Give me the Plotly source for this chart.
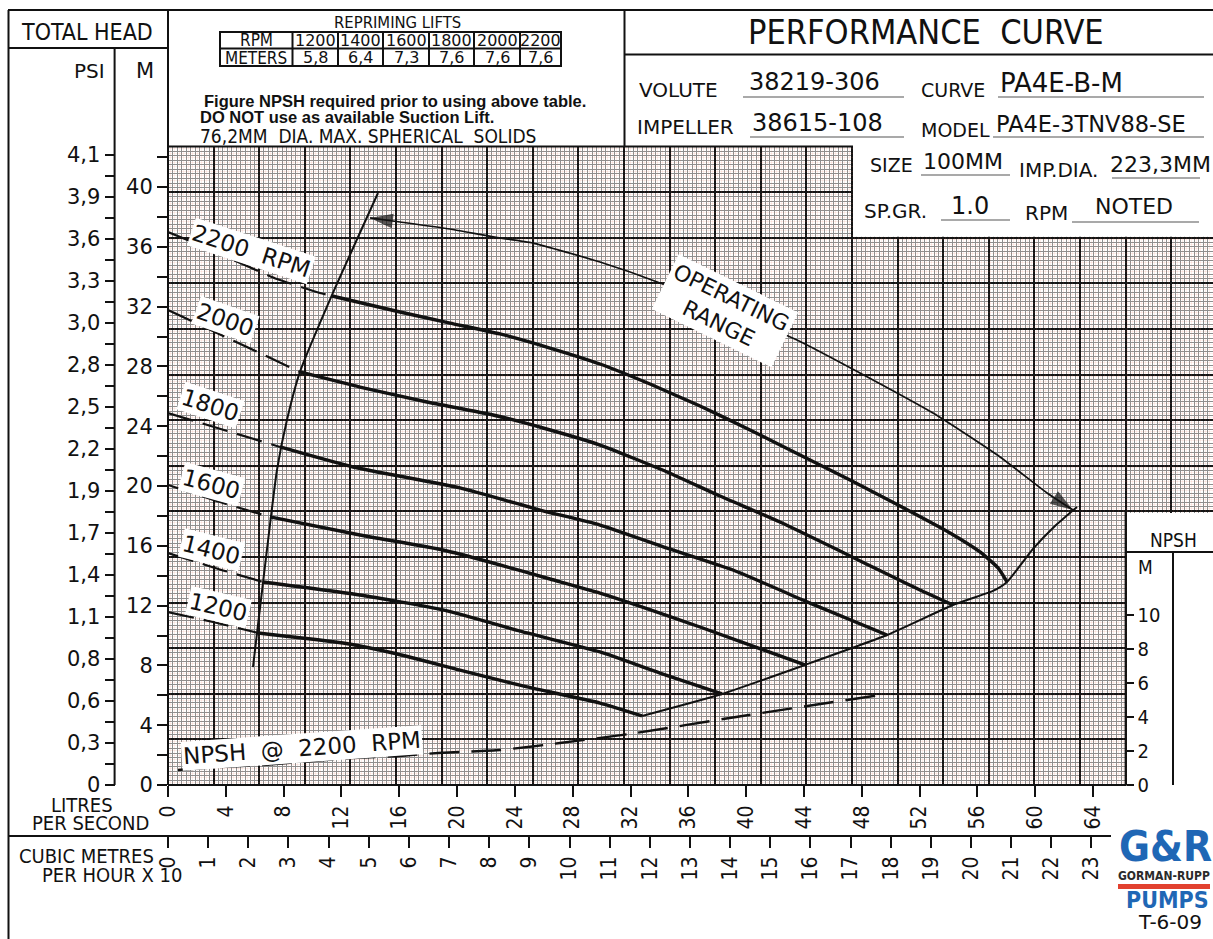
import plotly.graph_objects as go

W, H = 1213, 939
F_NARROW = "DejaVu Sans Condensed, DejaVu Sans, sans-serif"
F_SANS = "DejaVu Sans, sans-serif"
F_NOTE = "Liberation Sans, Arial, sans-serif"

# ------------------------------------------------------------------ data
# flow in litres / second, head in metres
Q_2200_DASH = [0.0, 2.70, 4.84, 7.54, 10.52, 11.35]
H_2200_DASH = [36.99, 35.92, 34.98, 33.85, 32.91, 32.71]
Q_2200 = [11.35, 16.05, 19.51, 22.97, 26.43, 29.89, 33.35, 36.81, 40.27, 43.73, 47.19, 50.65, 54.11, 56.18, 57.43, 58.05]
H_2200 = [32.71, 31.64, 30.90, 30.17, 29.23, 28.16, 26.82, 25.35, 23.75, 22.07, 20.40, 18.66, 16.86, 15.59, 14.52, 13.58]

Q_2000_DASH = [0.0, 4.57, 9.13]
H_2000_DASH = [31.77, 29.70, 27.63]
Q_2000 = [9.13, 13.28, 17.92, 22.49, 25.95, 29.89, 34.53, 38.19, 42.34, 46.50, 49.75, 52.03, 54.31]
H_2000 = [27.63, 26.62, 25.62, 24.75, 23.88, 22.74, 20.94, 19.33, 17.59, 15.65, 14.11, 13.04, 12.04]

Q_1800_DASH = [0.0, 3.87, 7.75]
H_1800_DASH = [24.88, 23.75, 22.61]
Q_1800 = [7.75, 12.80, 20.20, 25.74, 29.89, 34.53, 39.09, 44.42, 49.75]
H_1800 = [22.61, 21.27, 19.87, 18.39, 17.39, 15.85, 14.38, 12.17, 10.03]

Q_1600_DASH = [0.0, 3.60, 7.06]
H_1600_DASH = [20.07, 18.93, 17.93]
Q_1600 = [7.06, 13.28, 19.03, 22.49, 26.43, 29.89, 36.81, 44.07]
H_1600 = [17.93, 16.72, 15.72, 14.85, 13.78, 12.84, 10.57, 8.03]

Q_1400_DASH = [0.0, 3.25, 6.57]
H_1400_DASH = [15.52, 14.52, 13.58]
Q_1400 = [6.57, 13.28, 19.03, 24.84, 29.89, 34.04, 38.33]
H_1400 = [13.58, 12.71, 11.71, 10.17, 8.90, 7.49, 6.09]

Q_1200_DASH = [0.0, 3.11, 6.23]
H_1200_DASH = [11.57, 10.90, 10.17]
Q_1200 = [6.23, 12.11, 15.57, 20.20, 24.84, 29.89, 32.80]
H_1200 = [10.17, 9.50, 8.83, 7.69, 6.56, 5.48, 4.62]

# end-of-curve (maximum flow) line
Q_MAX = [32.80, 38.33, 44.07, 49.75, 54.31, 57.08, 58.05, 59.85, 61.37, 62.89]
H_MAX = [4.62, 6.09, 8.03, 10.03, 12.04, 12.98, 13.58, 15.79, 17.32, 18.60]

# minimum flow (left) line
Q_MIN = [5.88, 6.57, 7.54, 8.23, 9.13, 11.35, 14.53]
H_MIN = [7.89, 13.51, 21.07, 24.41, 27.63, 32.78, 39.60]

# operating range arrow
Q_OPR = [13.98, 16.05, 19.51, 22.49, 25.25, 29.89, 34.04, 38.88, 43.52, 52.93, 57.57, 60.82, 62.62]
H_OPR = [37.93, 37.66, 37.19, 36.66, 36.25, 34.98, 33.58, 31.64, 29.77, 24.88, 21.94, 19.53, 18.39]

# NPSH required @ 2200 rpm (NPSH metres)
Q_NPSH = [0.69, 3.60, 6.57, 9.13, 12.73, 16.05, 18.68, 22.97, 27.12, 32.38, 39.30, 49.26]
H_NPSH = [0.88, 1.06, 1.17, 1.35, 1.58, 1.70, 1.88, 2.05, 2.46, 3.05, 3.99, 5.28]

CURVE_LABELS = ["2200\u00a0\u00a0RPM", "2000", "1800", "1600", "1400", "1200"]

# ticks
LPS_TICKS = list(range(0, 65, 4))
M3H_TICKS = list(range(0, 24))
HEAD_TICKS = list(range(0, 41, 4))
HEAD_MINOR = list(range(2, 43, 4))
PSI_TICKS = [0.275 * i for i in range(16)]
PSI_LABELS = ["0", "0,3", "0,6", "0,8", "1,1", "1,4", "1,7", "1,9", "2,2", "2,5",
              "2,8", "3,0", "3,3", "3,6", "3,9", "4,1"]
PSI_MINOR = [0.1375 * i for i in range(31)]
NPSH_TICKS = [0, 2, 4, 6, 8, 10]

REPRIME_RPM = ["1200", "1400", "1600", "1800", "2000", "2200"]
REPRIME_M = ["5,8", "6,4", "7,3", "7,6", "7,6", "7,6"]

# ------------------------------------------------------------------ geometry (pixels)
X0, XR, Y0, YT = 168.0, 1213.0, 785.0, 146.0
SX, SY, SN, SP, SC = 14.453, 14.95, 17.05, 152.7, 40.15
G = 45.6  # graph-paper major square

DOM_X = [X0 / W, 1.0]
DOM_Y = [1 - Y0 / H, 1 - YT / H]


def px(x):
    return x / W


def py(y):
    return 1 - y / H


fig = go.Figure()
BLACK = "#111111"


def add_curve(q, h, width, dash=None, yaxis="y"):
    fig.add_trace(go.Scatter(x=q, y=h, mode="lines", yaxis=yaxis,
                             line=dict(color=BLACK, width=width, dash=dash, shape="spline", smoothing=0.5),
                             hoverinfo="skip", showlegend=False))


# empty traces that bind the decorative axes (graph paper, PSI, m3/h) to subplots
for xa, ya in [("x3", "y3"), ("x4", "y4"), ("x", "y5"), ("x5", "y")]:
    fig.add_trace(go.Scatter(x=[], y=[], xaxis=xa, yaxis=ya, mode="lines",
                             hoverinfo="skip", showlegend=False))

DASH = "26px,10px"
for qd, hd, qs, hs in [
    (Q_2200_DASH, H_2200_DASH, Q_2200, H_2200),
    (Q_2000_DASH, H_2000_DASH, Q_2000, H_2000),
    (Q_1800_DASH, H_1800_DASH, Q_1800, H_1800),
    (Q_1600_DASH, H_1600_DASH, Q_1600, H_1600),
    (Q_1400_DASH, H_1400_DASH, Q_1400, H_1400),
    (Q_1200_DASH, H_1200_DASH, Q_1200, H_1200),
]:
    add_curve(qd, hd, 2.2, DASH)
    add_curve(qs, hs, 3.4)

add_curve(Q_MAX, H_MAX, 2.0)
add_curve(Q_MIN, H_MIN, 2.0)
add_curve(Q_OPR, H_OPR, 1.7)
add_curve(Q_NPSH, H_NPSH, 2.4, "30px,12px", yaxis="y2")

# arrow heads at both ends of the operating range line
for i, j in [(1, 0), (-2, -1)]:
    fig.add_trace(go.Scatter(x=[Q_OPR[i], Q_OPR[j]], y=[H_OPR[i], H_OPR[j]], mode="markers",
                             marker=dict(symbol=["circle", "arrow"], size=[0, 24], color=BLACK,
                                         angleref="previous", line=dict(width=0)),
                             hoverinfo="skip", showlegend=False))

# ------------------------------------------------------------------ axes
tick_common = dict(ticks="outside", tickwidth=2, tickcolor=BLACK, showgrid=False,
                   zeroline=False, showline=False, automargin=False)
paper_common = dict(showticklabels=False, ticks="", zeroline=False, showline=False, automargin=False)
MINOR_INK = "#8e8e8e"
MAJOR_INK = "#141414"
RED_INK = "rgba(230,120,95,0.12)"

fig.update_layout(
    xaxis=dict(domain=DOM_X, range=[0, (XR - X0) / SX], anchor="y", tickmode="array",
               tickvals=LPS_TICKS, ticklen=11, tickangle=-90,
               tickfont=dict(family=F_NARROW, size=21, color=BLACK), **tick_common),
    yaxis=dict(domain=DOM_Y, range=[0, (Y0 - YT) / SY], anchor="x", tickmode="array",
               tickvals=HEAD_TICKS, ticklen=10,
               minor=dict(tickmode="array", tickvals=HEAD_MINOR, ticks="outside", ticklen=10,
                          tickwidth=2, tickcolor=BLACK, showgrid=False),
               tickfont=dict(family=F_SANS, size=21, color=BLACK), **tick_common),
    yaxis2=dict(overlaying="y", side="right", anchor="free", position=1125.6 / W,
                range=[0, (Y0 - YT) / SN], tickmode="array", tickvals=NPSH_TICKS, ticklen=7,
                tickfont=dict(family=F_NARROW, size=20, color=BLACK), **tick_common),
    # graph paper (black)
    xaxis3=dict(overlaying="x", anchor="y3", range=[0, (XR - X0) / G], dtick=1, tick0=0,
                showgrid=True, gridcolor=MAJOR_INK, gridwidth=2,
                minor=dict(dtick=0.1, tick0=0, showgrid=True, gridcolor=MINOR_INK, gridwidth=1),
                **paper_common),
    yaxis3=dict(overlaying="y", anchor="x3", range=[0, (Y0 - YT) / G], dtick=1, tick0=0,
                showgrid=True, gridcolor=MAJOR_INK, gridwidth=2,
                minor=dict(dtick=0.1, tick0=0, showgrid=True, gridcolor=MINOR_INK, gridwidth=1),
                **paper_common),
    # graph paper (faint red misregistration)
    xaxis4=dict(overlaying="x", anchor="y4", range=[-2 / G, (XR - X0) / G - 2 / G], dtick=0.1, tick0=0,
                showgrid=True, gridcolor=RED_INK, gridwidth=1, **paper_common),
    yaxis4=dict(overlaying="y", anchor="x4", range=[2 / G, (Y0 - YT) / G + 2 / G], dtick=0.1, tick0=0,
                showgrid=True, gridcolor=RED_INK, gridwidth=1, **paper_common),
    # PSI
    yaxis5=dict(overlaying="y", side="left", anchor="free", position=114.6 / W,
                range=[0, (Y0 - YT) / SP], tickmode="array", tickvals=PSI_TICKS, ticktext=PSI_LABELS,
                ticklen=10,
                minor=dict(tickmode="array", tickvals=PSI_MINOR, ticks="outside", ticklen=10,
                           tickwidth=2, tickcolor=BLACK, showgrid=False),
                tickfont=dict(family=F_SANS, size=21, color=BLACK), **tick_common),
    # cubic metres per hour x 10
    xaxis5=dict(overlaying="x", side="bottom", anchor="free", position=1 - 836 / H,
                range=[0, (XR - X0) / SC], tickmode="array", tickvals=M3H_TICKS, ticklen=11,
                tickangle=-90, tickfont=dict(family=F_NARROW, size=21, color=BLACK), **tick_common),
)

# ------------------------------------------------------------------ shapes
shapes = []


def rect(x0, y0, x1, y1, fill="white", lw=0, color=BLACK):
    shapes.append(dict(type="rect", xref="paper", yref="paper", x0=px(x0), y0=py(y0), x1=px(x1), y1=py(y1),
                       fillcolor=fill, line=dict(width=lw, color=color), layer="above"))


def line(x0, y0, x1, y1, w=2.0, color=BLACK):
    shapes.append(dict(type="line", xref="paper", yref="paper", x0=px(x0), y0=py(y0), x1=px(x1), y1=py(y1),
                       line=dict(width=w, color=color), layer="above"))


# white cut-outs of the graph paper
rect(853, 140, 1214, 236.8)
# NPSH box: drawn between grid and traces (in data units) so that its axis labels stay visible
shapes.append(dict(type="rect", xref="x", yref="y", layer="between",
                   x0=(1127 - X0) / SX, x1=(1215 - X0) / SX, y0=(Y0 - 790) / SY, y1=(Y0 - 513) / SY,
                   fillcolor="white", line=dict(width=0)))

# frame
line(8.5, 10, 8.5, 939)
line(8, 10, 1213, 10)
line(8, 48, 168, 48)
line(114.6, 48, 114.6, 785)
line(168, 10, 168, 785)
line(624.5, 10, 624.5, 146)
line(625, 54.5, 1213, 54.5)
line(168, 146.5, 853, 146.5)
line(168, 785, 1126, 785)
line(8, 836, 1111, 836)
line(1125.6, 512, 1125.6, 786)
line(1126, 552, 1213, 552)
line(1173, 552, 1173, 785)

# repriming table
rect(220, 32, 561, 66, fill="rgba(0,0,0,0)", lw=2)
line(220, 48.5, 561, 48.5)
COL_X = [220, 292.5, 338, 383, 429, 474, 520, 561]
for cx in COL_X[1:-1]:
    line(cx, 32, cx, 66)

# underlines of the title block
for (a, b, yy) in [(743, 904, 97), (998, 1204, 97), (750, 904, 137), (993, 1204, 137),
                   (921, 1010, 175), (1112, 1200, 178), (941, 1010, 220), (1072, 1199, 222)]:
    line(a, yy, b, yy, w=1.2, color="#555555")

# logo red bar
rect(1118, 884, 1210, 889, fill="#e2412f")

fig.update_layout(shapes=shapes)

# ------------------------------------------------------------------ text
ann = []


def text(t, x, y, size, family=F_SANS, xa="center", ya="middle", color=BLACK, angle=0):
    ann.append(dict(text=t, x=px(x), y=py(y), xref="paper", yref="paper", showarrow=False,
                    xanchor=xa, yanchor=ya, textangle=angle,
                    font=dict(size=size, family=family, color=color)))


text("TOTAL HEAD", 86.5, 31.5, 23, F_NARROW)
text("PSI", 89.5, 71, 20)
text("M", 145, 71, 21)

text("REPRIMING LIFTS", 397, 22, 16.5, F_NARROW)
text("RPM", (COL_X[0] + COL_X[1]) / 2, 40.5, 17, F_NARROW)
text("METERS", (COL_X[0] + COL_X[1]) / 2, 57.5, 17, F_NARROW)
for k in range(6):
    cx = (COL_X[k + 1] + COL_X[k + 2]) / 2
    text(REPRIME_RPM[k], cx, 40.5, 16)
    text(REPRIME_M[k], cx, 57.5, 16)

text("<b>Figure NPSH required prior to using above table.</b>", 202, 101, 16.5, F_NOTE, xa="left")
text("<b>DO NOT use as available Suction Lift.</b>", 198, 116.5, 16.5, F_NOTE, xa="left")
text("76,2MM  DIA. MAX. SPHERICAL  SOLIDS", 198, 136, 19, F_NARROW, xa="left")

text("PERFORMANCE\u00a0\u00a0CURVE", 926, 32, 34, F_NARROW)
text("VOLUTE", 637, 89.5, 20, xa="left")
text("38219-306", 747, 82, 24, xa="left")
text("CURVE", 919, 89.5, 19, xa="left")
text("PA4E-B-M", 998, 83, 26, xa="left")
text("IMPELLER", 635, 127.5, 20, xa="left")
text("38615-108", 750, 122.5, 24, xa="left")
text("MODEL", 919, 129.5, 19, xa="left")
text("PA4E-3TNV88-SE", 994, 124, 22.5, xa="left")
text("SIZE", 868, 165.5, 19, xa="left")
text("100MM", 921, 161.5, 22, xa="left")
text("IMP.DIA.", 1017, 170, 20, xa="left")
text("223,3MM", 1108, 164, 22, xa="left")
text("SP.GR.", 862, 211.5, 20, xa="left")
text("1.0", 949, 206, 24, xa="left")
text("RPM", 1023, 213.5, 20, xa="left")
text("NOTED", 1093, 206, 22, xa="left")

text("LITRES", 82, 805, 20, F_NARROW)
text("PER SECOND", 90, 823, 20, F_NARROW)
text("CUBIC METRES", 86, 856, 20, F_NARROW)
text("PER HOUR X 10", 112, 875, 20, F_NARROW)

text("NPSH", 1173, 540, 19, F_NARROW)
text("M", 1145, 567, 19, F_NARROW)

text("<b>G&amp;R</b>", 1165, 846, 42, F_NARROW, color="#1f67b5")
text("<b>GORMAN-RUPP</b>", 1164, 876, 12, F_NARROW, color="#2b2b2b")
text("<b>PUMPS</b>", 1167, 900, 23, F_NARROW, color="#1f67b5")
text("T-6-09", 1170, 922, 20)

# curve labels (data coordinates, white halo)
LABEL_POS = [(5.78, 35.75, 18), (4.01, 31.10, 19), (2.91, 25.42, 18),
             (2.98, 20.13, 15), (3.04, 15.72, 14), (3.46, 11.91, 13)]
for lab, (lx, ly, la) in zip(CURVE_LABELS, LABEL_POS):
    ann.append(dict(text=lab, x=lx, y=ly, xref="x", yref="y", showarrow=False, textangle=la,
                    bgcolor="white", borderpad=1, font=dict(size=23, family=F_SANS, color=BLACK)))

ann.append(dict(text="NPSH\u00a0\u00a0@\u00a0\u00a02200\u00a0\u00a0RPM", x=9.27, y=2.47, xref="x", yref="y",
                showarrow=False, textangle=-4, bgcolor="white", borderpad=1,
                font=dict(size=23, family=F_SANS, color=BLACK)))
ann.append(dict(text="OPERATING<br>RANGE", x=38.57, y=31.71, xref="x", yref="y", showarrow=False,
                textangle=26, bgcolor="white", borderpad=3,
                font=dict(size=22, family=F_SANS, color=BLACK)))

fig.update_layout(
    annotations=ann,
    width=W, height=H, autosize=False,
    margin=dict(l=0, r=0, t=0, b=0, pad=0, autoexpand=False),
    paper_bgcolor="white", plot_bgcolor="white",
    showlegend=False, hovermode=False,
)

fig.write_html("out.html", config={"displayModeBar": False})

with open("out.html", "r", encoding="utf-8") as fh:
    html = fh.read()
html = html.replace("<head>", "<head><style>html,body{margin:0;padding:0;overflow:hidden;}</style>", 1)
with open("out.html", "w", encoding="utf-8") as fh:
    fh.write(html)
